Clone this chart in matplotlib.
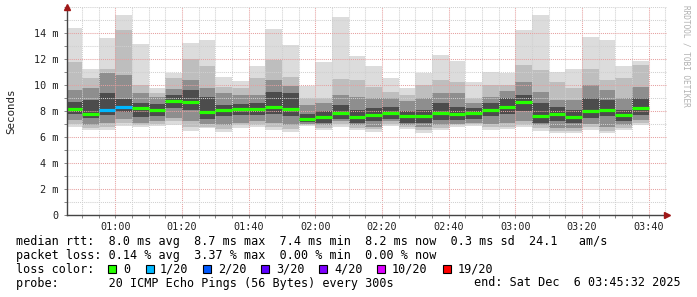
import numpy as np
import pandas as pd
import matplotlib
matplotlib.use('Agg')
import matplotlib.pyplot as plt
import matplotlib.dates as mdates
from matplotlib.patches import Rectangle

# bar end times (5 minute steps) and the smoke / median values in ms
bar_end = pd.date_range('2025-12-06 00:50', '2025-12-06 03:40', freq='5min')
t_start = pd.Timestamp('2025-12-06 00:45:32')
t_end = pd.Timestamp('2025-12-06 03:45:32')

median = [8.18, 7.77, 8.10, 8.33, 8.23, 8.05, 8.77, 8.69, 7.90, 8.08, 8.18, 8.18, 8.28, 8.13, 7.38,
          7.51, 7.82, 7.56, 7.69, 7.87, 7.59, 7.62, 7.85, 7.77, 7.85, 8.10, 8.33, 8.72, 7.59, 7.77,
          7.56, 8.03, 8.10, 7.67, 8.20]
ping_max = [14.4, 11.2, 13.6, 15.4, 13.15, 9.8, 10.95, 13.25, 13.46, 10.6, 10.3, 11.5, 14.3, 13.1, 9.9,
            11.8, 15.2, 12.2, 11.5, 10.5, 9.8, 10.95, 12.3, 11.87, 10.26, 11.0, 10.9, 14.2, 15.4, 10.97,
            11.2, 13.7, 13.5, 11.5, 11.87]
hi1 = [11.8, 10.5, 11.2, 14.2, 10.0, 9.4, 10.5, 12.0, 11.5, 9.87, 9.74, 10.5, 11.9, 10.6, 9.0,
       8.97, 10.5, 10.4, 9.87, 9.5, 9.2, 10.0, 10.4, 10.26, 8.97, 10.0, 10.0, 11.5, 11.15, 10.26,
       9.74, 11.2, 10.4, 10.5, 11.5]
hi2 = [9.6, 9.74, 10.9, 10.8, 9.36, 9.1, 9.7, 10.4, 9.75, 9.36, 9.2, 9.2, 10.4, 9.9, 8.5,
       8.6, 9.2, 9.1, 9.0, 9.0, 8.8, 9.0, 9.36, 9.36, 8.6, 9.1, 9.5, 10.26, 9.5, 8.85,
       8.85, 10.0, 9.6, 9.0, 9.87]
hi3 = [8.7, 8.85, 9.36, 8.9, 8.6, 8.5, 9.2, 9.6, 9.1, 8.46, 8.5, 8.6, 9.5, 9.36, 7.8,
       8.0, 8.46, 8.1, 8.2, 8.33, 8.0, 8.1, 8.6, 8.3, 8.2, 8.6, 9.0, 9.2, 8.6, 8.3,
       8.1, 9.0, 8.85, 8.1, 9.0]
lo3 = [7.8, 7.44, 7.7, 7.9, 7.56, 7.6, 8.2, 8.1, 7.4, 7.6, 7.7, 7.7, 7.8, 7.6, 7.15,
       7.1, 7.4, 7.1, 7.2, 7.4, 7.1, 7.1, 7.3, 7.3, 7.4, 7.6, 7.8, 8.0, 7.1, 7.2,
       7.1, 7.5, 7.6, 7.2, 7.7]
lo2 = [7.3, 6.92, 7.1, 7.4, 7.05, 7.2, 7.46, 7.2, 7.0, 6.9, 7.1, 7.2, 7.1, 6.9, 7.0,
       6.9, 7.2, 6.9, 6.8, 7.2, 6.9, 6.8, 6.9, 7.0, 7.1, 7.0, 7.1, 7.2, 6.9, 6.7,
       6.7, 7.0, 6.8, 6.9, 7.3]
lo1 = [7.0, 6.7, 6.8, 7.1, 6.9, 7.0, 7.2, 6.8, 6.8, 6.6, 6.9, 6.95, 6.8, 6.65, 6.92,
       6.7, 7.0, 6.7, 6.6, 7.0, 6.75, 6.55, 6.7, 6.9, 7.0, 6.75, 6.8, 6.95, 6.7, 6.5,
       6.5, 6.75, 6.5, 6.7, 7.1]
ping_min = [6.8, 6.54, 6.54, 6.85, 6.74, 6.85, 6.95, 6.49, 6.67, 6.36, 6.67, 6.74, 6.54, 6.41, 6.85,
            6.54, 6.8, 6.54, 6.41, 6.85, 6.59, 6.33, 6.54, 6.74, 6.85, 6.54, 6.59, 6.74, 6.49, 6.28,
            6.28, 6.54, 6.28, 6.54, 6.92]
lost = [0, 0, 1, 1, 0, 0, 0, 0, 0, 0, 0, 0, 0, 0, 0, 0, 0, 0, 0, 0, 0, 0, 0, 0, 0, 0, 0, 0, 0, 0,
        0, 0, 0, 0, 0]

loss_labels = ['0', '1/20', '2/20', '3/20', '4/20', '10/20', '19/20']
loss_colors = ['#26ff00', '#00b8ff', '#0059ff', '#5e00ff', '#7e00ff', '#dd00ff', '#ff0000']

y_ticks = [0, 2, 4, 6, 8, 10, 12, 14]

legend_rows = [
    'median rtt:  8.0 ms avg  8.7 ms max  7.4 ms min  8.2 ms now  0.3 ms sd  24.1   am/s',
    'packet loss: 0.14 % avg  3.37 % max  0.00 % min  0.00 % now',
    'loss color:',
    'probe:       20 ICMP Echo Pings (56 Bytes) every 300s',
]
end_label = 'end: Sat Dec  6 03:45:32 2025'

W, H = 697, 297
mono = 'DejaVu Sans Mono'

fig = plt.figure(figsize=(W / 100, H / 100), dpi=100)
fig.patch.set_facecolor('white')
ax = fig.add_axes([67 / W, 82 / H, 600 / W, 208 / H])

step = 5 / 1440.0
x_right = mdates.date2num(bar_end.to_pydatetime())
x_left = x_right - step

# smoke layers, outer light to inner dark
layers = [(ping_min, ping_max, '#dcdcdc'),
          (lo1, hi1, '#bebebe'),
          (lo2, hi2, '#8e8e8e'),
          (lo3, hi3, '#4c4c4c')]
for lo, hi, col in layers:
    lo = np.array(lo)
    hi = np.array(hi)
    ax.bar(x_left, hi - lo, bottom=lo, width=step, align='edge', color=col,
           linewidth=0, antialiased=False, zorder=1)

# median line coloured by loss
med_cols = [loss_colors[min(n, 6)] for n in lost]
ax.hlines(median, x_left, x_right, colors=med_cols, linewidth=2.3, zorder=3,
          capstyle='butt')

ax.set_xlim(mdates.date2num(t_start), mdates.date2num(t_end))
ax.set_ylim(0, 16)

ax.xaxis.set_major_locator(mdates.MinuteLocator(byminute=[0, 20, 40]))
ax.xaxis.set_minor_locator(mdates.MinuteLocator(byminute=range(0, 60, 5)))
ax.xaxis.set_major_formatter(mdates.DateFormatter('%H:%M'))
ax.set_yticks(y_ticks)
ax.set_yticks(range(0, 17), minor=True)
ax.set_yticklabels(['0'] + ['%d m' % v for v in y_ticks[1:]])

dot = (0, (1, 1))
ax.grid(which='minor', color='#d0d0d0', linestyle=dot, linewidth=0.75, zorder=4)
ax.grid(which='major', color='#e6a0a0', linestyle=dot, linewidth=0.75, zorder=4)
ax.set_axisbelow(False)

for s in ['top', 'right']:
    ax.spines[s].set_visible(False)
for s in ['left', 'bottom']:
    ax.spines[s].set_color('#444444')
    ax.spines[s].set_linewidth(1.0)
    ax.spines[s].set_zorder(5)

ax.tick_params(which='both', length=2, color='#888888', width=0.7)
ax.tick_params(axis='y', pad=4)
ax.tick_params(axis='x', pad=3)
for lab in ax.get_xticklabels() + ax.get_yticklabels():
    lab.set_family(mono)
    lab.set_fontsize(7.3)
    lab.set_color('#222222')

ax.set_ylabel('Seconds', family=mono, fontsize=7.8, labelpad=13, color='#222222')

# axis arrows
ax.plot([0], [1.0], marker='^', markersize=4, color='#a01818', transform=ax.transAxes,
        clip_on=False, zorder=6)
ax.plot([1.0], [0], marker='>', markersize=4, color='#a01818', transform=ax.transAxes,
        clip_on=False, zorder=6)

# watermark
fig.text(686 / W, 1 - 5 / H, 'RRDTOOL / TOBI OETIKER', rotation=270, family=mono,
         fontsize=5.6, color='#b0b0b0', ha='center', va='top')

# legend rows
row_base = [245.5, 259, 273, 286.5]
for txt, yb in zip(legend_rows, row_base):
    fig.text(16 / W, 1 - yb / H, txt, family=mono, fontsize=8.45, color='#000000',
             ha='left', va='baseline')
fig.text(681 / W, 1 - row_base[3] / H, end_label, family=mono, fontsize=8.45,
         color='#000000', ha='right', va='baseline')

sq_x = [108, 146, 203, 261, 319, 377, 443]
lab_x = [123, 160, 218, 276, 334, 392, 458]
for sx, lx, col, txt in zip(sq_x, lab_x, loss_colors, loss_labels):
    fig.add_artist(Rectangle((sx / W, 1 - 273 / H), 8 / W, 8 / H, transform=fig.transFigure,
                             facecolor=col, edgecolor='black', linewidth=0.8))
    fig.text(lx / W, 1 - row_base[2] / H, txt, family=mono, fontsize=8.45,
             color='#000000', ha='left', va='baseline')

fig.savefig('out.png', dpi=100, facecolor='white')
